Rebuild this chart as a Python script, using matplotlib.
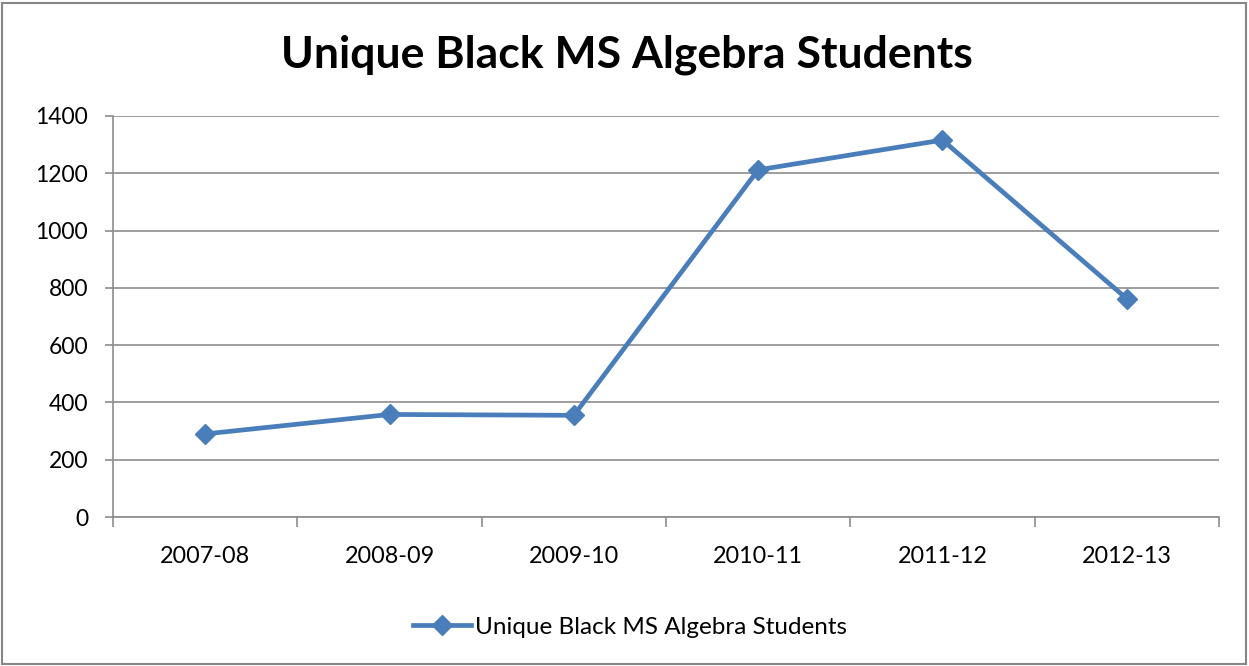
import matplotlib
matplotlib.use("Agg")
import matplotlib.pyplot as plt
from matplotlib.lines import Line2D
from matplotlib.patches import Rectangle

categories = ["2007-08", "2008-09", "2009-10", "2010-11", "2011-12", "2012-13"]
values = [290, 358, 355, 1212, 1316, 762]
series_name = "Unique Black MS Algebra Students"
yticks = [0, 200, 400, 600, 800, 1000, 1200, 1400]

plt.rcParams['font.family'] = ['Lato', 'DejaVu Sans']

W, H = 1249, 666
fig = plt.figure(figsize=(W / 100, H / 100), dpi=100)
left, right, top, bottom = 113, 1219, 116, 517
ax = fig.add_axes([left / W, 1 - bottom / H, (right - left) / W, (bottom - top) / H])

color = "#4A7EBB"
x = list(range(len(categories)))
ax.plot(x, values, color=color, lw=3.4, marker="D", markersize=10,
        markerfacecolor=color, markeredgecolor=color, label=series_name,
        solid_joinstyle="round", zorder=3)

ax.set_xlim(-0.5, len(categories) - 0.5)
ax.set_ylim(0, 1400)
ax.set_yticks(yticks)
ax.set_yticklabels([str(v) for v in yticks], fontsize=16.5)
ax.grid(axis="y", color="#8C8C8C", lw=1.2)
ax.set_axisbelow(True)

ax.set_xticks([i - 0.5 for i in range(len(categories) + 1)])
ax.set_xticklabels([""] * (len(categories) + 1))
ax.set_xticks(x, minor=True)
ax.set_xticklabels(categories, minor=True, fontsize=16.8)
ax.tick_params(axis="x", which="major", direction="out", length=7, color="#8C8C8C", width=1.2)
ax.tick_params(axis="x", which="minor", length=0, pad=21)
ax.tick_params(axis="y", direction="out", length=6, color="#8C8C8C", width=1.2, pad=12)

for s in ["top", "right"]:
    ax.spines[s].set_visible(False)
for s in ["left", "bottom"]:
    ax.spines[s].set_color("#8C8C8C")
    ax.spines[s].set_linewidth(1.2)

fig.text(627 / W, 1 - 55 / H, "Unique Black MS Algebra Students", ha="center", va="center",
         fontsize=32, fontweight="bold")

handle = Line2D([], [], color=color, lw=3.4, marker="D", markersize=10,
                markerfacecolor=color, markeredgecolor=color)
fig.legend([handle], [series_name], loc="center", bbox_to_anchor=(630 / W, 1 - 627 / H),
           frameon=False, fontsize=17.5, handlelength=2.4, handletextpad=0.15)

fig.patches.append(Rectangle((2 / W, 2 / H), (W - 5) / W, (H - 5) / H, transform=fig.transFigure,
                             fill=False, edgecolor="#868686", lw=1.5))

fig.savefig("out.png", dpi=100)
